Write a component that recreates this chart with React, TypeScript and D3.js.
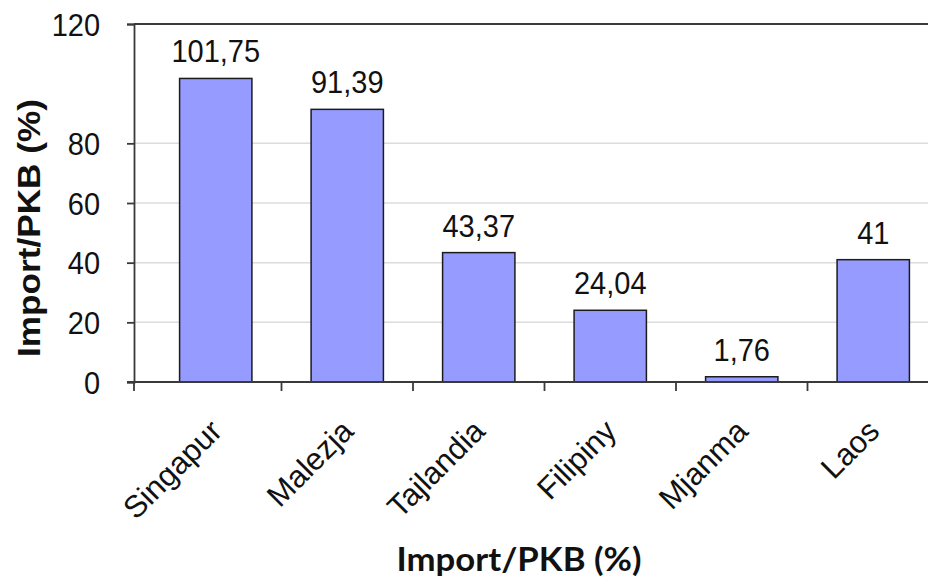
import React, { useEffect, useRef } from "react";
import * as d3 from "d3";

// Import as a share of GDP, by country
const countries = ["Singapur", "Malezja", "Tajlandia", "Filipiny", "Mjanma", "Laos"];
const importShare = [101.75, 91.39, 43.37, 24.04, 1.76, 41];
const yTickValues = [0, 20, 40, 60, 80, 120];
const yTitle = "Import/PKB (%)";
const xTitle = "Import/PKB (%)";

const W = 928;
const H = 580;

const fmt = (v: number) => String(v).replace(".", ",");

export default function App() {
  const ref = useRef<SVGSVGElement>(null);

  useEffect(() => {
    const svg = d3.select(ref.current);
    svg.selectAll("*").remove();

    const axisLeftX = 134;
    const baseY = 382;
    const topY = 24;
    const axisColor = "#3a3a3a";
    const font = "'Liberation Sans', Arial, sans-serif";
    const stretch = 1.1;

    const y = d3.scaleLinear().domain([0, 120]).range([baseY, topY]);
    const x = d3
      .scaleBand<string>()
      .domain(countries)
      .range([150, 939])
      .paddingInner(0.45)
      .paddingOuter(0.225);

    // horizontal gridlines
    svg
      .append("g")
      .selectAll("line")
      .data(yTickValues.filter((t) => t > 0 && t < 120))
      .join("line")
      .attr("x1", axisLeftX)
      .attr("x2", W)
      .attr("y1", (d) => y(d))
      .attr("y2", (d) => y(d))
      .attr("stroke", "#dcdcdc")
      .attr("stroke-width", 1.5);

    // top frame line
    svg
      .append("line")
      .attr("x1", axisLeftX)
      .attr("x2", W)
      .attr("y1", y(120))
      .attr("y2", y(120))
      .attr("stroke", axisColor)
      .attr("stroke-width", 1.8);

    // bars
    const data = countries.map((c, i) => ({ c, v: importShare[i] }));
    svg
      .append("g")
      .selectAll("rect")
      .data(data)
      .join("rect")
      .attr("x", (d) => x(d.c)!)
      .attr("width", x.bandwidth())
      .attr("y", (d) => y(d.v))
      .attr("height", (d) => y(0) - y(d.v))
      .attr("fill", "#969bff")
      .attr("stroke", "#1c1c1c")
      .attr("stroke-width", 1.5);

    // value labels
    svg
      .append("g")
      .selectAll("text")
      .data(data)
      .join("text")
      .attr(
        "transform",
        (d) => `translate(${x(d.c)! + x.bandwidth() / 2},${y(d.v) - 16}) scale(1,${stretch})`
      )
      .attr("text-anchor", "middle")
      .attr("font-family", font)
      .attr("font-size", 29)
      .attr("fill", "#111")
      .text((d) => fmt(d.v));

    // y axis
    const yAxis = svg
      .append("g")
      .attr("transform", `translate(${axisLeftX},0)`)
      .call(
        d3
          .axisLeft(y)
          .tickValues(yTickValues)
          .tickSize(7)
          .tickPadding(27)
          .tickFormat((d) => String(d))
      );
    yAxis.select(".domain").attr("stroke", axisColor).attr("stroke-width", 1.8);
    yAxis.selectAll(".tick line").attr("stroke", axisColor).attr("stroke-width", 1.8);
    yAxis
      .selectAll(".tick text")
      .attr("font-family", font)
      .attr("font-size", 29)
      .attr("dy", null)
      .attr("y", 10)
      .attr("transform", `scale(1,${stretch})`)
      .attr("fill", "#111");

    // x axis line and category separators
    svg
      .append("line")
      .attr("x1", axisLeftX - 7)
      .attr("x2", W)
      .attr("y1", y(0))
      .attr("y2", y(0))
      .attr("stroke", axisColor)
      .attr("stroke-width", 1.8);

    const gap = (x.step() * x.paddingInner()) / 2;
    const separators = [axisLeftX, ...countries.slice(1).map((c) => x(c)! - gap)];
    svg
      .append("g")
      .selectAll("line")
      .data(separators)
      .join("line")
      .attr("x1", (d) => d)
      .attr("x2", (d) => d)
      .attr("y1", y(0))
      .attr("y2", y(0) + 9)
      .attr("stroke", axisColor)
      .attr("stroke-width", 1.8);

    // rotated category labels
    svg
      .append("g")
      .selectAll("text")
      .data(countries)
      .join("text")
      .attr(
        "transform",
        (c) => `translate(${x(c)! + x.bandwidth() / 2 + 8},${y(0) + 51}) rotate(-45)`
      )
      .attr("text-anchor", "end")
      .attr("font-family", font)
      .attr("font-size", 31)
      .attr("fill", "#111")
      .text((c) => c);

    // axis titles
    svg
      .append("text")
      .attr("transform", `translate(40,228) rotate(-90)`)
      .attr("text-anchor", "middle")
      .attr("font-family", font)
      .attr("font-weight", "bold")
      .attr("font-size", 31)
      .attr("textLength", 258)
      .attr("lengthAdjust", "spacingAndGlyphs")
      .attr("fill", "#111")
      .text(yTitle);

    svg
      .append("text")
      .attr("x", 519)
      .attr("y", 571)
      .attr("text-anchor", "middle")
      .attr("font-family", "Lato, 'Open Sans', sans-serif")
      .attr("font-weight", "bold")
      .attr("font-size", 32)
      .attr("textLength", 245)
      .attr("lengthAdjust", "spacingAndGlyphs")
      .attr("fill", "#111")
      .text(xTitle);
  }, []);

  return (
    <svg
      ref={ref}
      width={W}
      height={H}
      style={{ position: "absolute", left: 0, top: 0, background: "#fff" }}
    />
  );
}
